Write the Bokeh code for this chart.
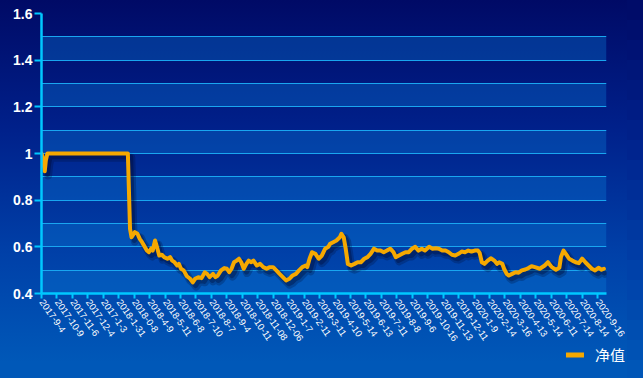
import numpy as np
from bokeh.plotting import figure
from bokeh.layouts import column
from bokeh.models import Range1d, FixedTicker, Legend, LegendItem, InlineStyleSheet
from bokeh.embed import file_html
from bokeh.resources import INLINE

# ---- data -------------------------------------------------------------
date_labels = [
    "2017-9-4", "2017-10-9", "2017-11-6", "2017-12-4", "2017-1-3", "2018-1-31",
    "2018-0-8", "2018-4-9", "2018-5-11", "2018-6-8", "2018-7-10", "2018-8-7",
    "2018-9-4", "2018-10-11", "2018-11-08", "2018-12-06", "2019-1-7", "2019-2-11",
    "2019-3-11", "2019-4-10", "2019-5-14", "2019-6-13", "2019-7-11", "2019-8-8",
    "2019-9-6", "2019-10-16", "2019-11-13", "2019-12-11", "2020-1-9", "2020-2-14",
    "2020-3-16", "2020-4-13", "2020-5-14", "2020-6-11", "2020-7-14", "2020-8-14",
    "2020-9-16",
]
y_ticks = [0.4, 0.6, 0.8, 1.0, 1.2, 1.4, 1.6]
y_tick_labels = ["0.4", "0.6", "0.8", "1", "1.2", "1.4", "1.6"]
grid_levels = [0.4, 0.5, 0.6, 0.7, 0.8, 0.9, 1.0, 1.1, 1.2, 1.3, 1.4, 1.5, 1.6]
x_end = 36.57
series_name = "净值"

# position along the category axis (in label intervals) and net value
pos = [0.00, 0.09, 0.21, 0.28, 0.38, 5.59, 5.73, 5.83, 6.04, 6.21, 6.36, 6.51, 6.68,
       6.82, 6.95, 7.09, 7.20, 7.35, 7.47, 7.62, 7.79, 7.94, 8.15, 8.32, 8.46, 8.61,
       8.78, 8.89, 9.03, 9.20, 9.41, 9.62, 9.79, 9.94, 10.15, 10.36, 10.57, 10.72,
       10.88, 11.10, 11.26, 11.41, 11.62, 11.83, 12.00, 12.15, 12.30, 12.46, 12.63,
       12.78, 12.93, 13.09, 13.26, 13.41, 13.58, 13.72, 13.94, 14.15, 14.36, 14.57,
       14.78, 14.99, 15.20, 15.41, 15.62, 15.83, 16.04, 16.25, 16.47, 16.67, 16.88,
       17.10, 17.20, 17.35, 17.51, 17.73, 17.94, 18.15, 18.36, 18.57, 18.68, 18.88,
       19.09, 19.31, 19.41, 19.56, 19.69, 19.83, 20.04, 20.26, 20.46, 20.67, 20.89,
       21.10, 21.30, 21.52, 21.73, 21.94, 22.15, 22.36, 22.57, 22.78, 22.93, 23.14,
       23.35, 23.56, 23.77, 23.98, 24.19, 24.40, 24.61, 24.82, 25.09, 25.31, 25.52,
       25.72, 25.94, 26.15, 26.36, 26.57, 26.78, 26.99, 27.20, 27.41, 27.62, 27.83,
       28.04, 28.25, 28.36, 28.50, 28.67, 28.88, 29.10, 29.31, 29.48, 29.62, 29.83,
       29.94, 30.11, 30.25, 30.46, 30.68, 30.88, 31.09, 31.31, 31.52, 31.72, 31.94,
       32.25, 32.57, 32.78, 33.03, 33.30, 33.52, 33.62, 33.79, 33.94, 34.15, 34.36,
       34.57, 34.78, 34.99, 35.20, 35.41, 35.62, 35.83, 36.05, 36.25, 36.40]
nav = [1.000, 0.980, 0.924, 0.970, 1.000, 1.000, 0.677, 0.641, 0.663, 0.656, 0.634,
       0.620, 0.600, 0.584, 0.577, 0.592, 0.584, 0.627, 0.600, 0.563, 0.566, 0.556,
       0.549, 0.556, 0.541, 0.534, 0.520, 0.527, 0.506, 0.499, 0.474, 0.463, 0.448,
       0.463, 0.470, 0.466, 0.491, 0.484, 0.470, 0.484, 0.470, 0.477, 0.499, 0.509,
       0.506, 0.491, 0.506, 0.534, 0.541, 0.549, 0.534, 0.506, 0.527, 0.541, 0.534,
       0.541, 0.520, 0.527, 0.513, 0.506, 0.513, 0.513, 0.499, 0.484, 0.470, 0.456,
       0.463, 0.477, 0.484, 0.499, 0.513, 0.520, 0.513, 0.549, 0.577, 0.570, 0.549,
       0.563, 0.592, 0.600, 0.613, 0.620, 0.627, 0.641, 0.656, 0.641, 0.592, 0.527,
       0.520, 0.527, 0.534, 0.534, 0.549, 0.556, 0.570, 0.592, 0.584, 0.584, 0.577,
       0.584, 0.592, 0.577, 0.556, 0.563, 0.570, 0.577, 0.577, 0.592, 0.600, 0.584,
       0.592, 0.584, 0.600, 0.592, 0.594, 0.592, 0.584, 0.584, 0.577, 0.566, 0.563,
       0.570, 0.580, 0.577, 0.584, 0.580, 0.584, 0.584, 0.574, 0.534, 0.527, 0.541,
       0.551, 0.541, 0.527, 0.534, 0.527, 0.506, 0.484, 0.477, 0.484, 0.491, 0.489,
       0.499, 0.503, 0.509, 0.517, 0.513, 0.506, 0.520, 0.534, 0.513, 0.502, 0.510,
       0.556, 0.584, 0.570, 0.549, 0.541, 0.534, 0.530, 0.549, 0.534, 0.520, 0.506,
       0.499, 0.510, 0.502, 0.506]

# ---- background styling (vertical gradient, plus strips around the page) ----
W, H = 627, 362
H_MAIN, H_LEG = 346, 16
stops = [(0.0, (0, 10, 102)), (0.35, (0, 32, 138)), (0.7, (0, 64, 168)), (1.0, (0, 88, 184))]


def grad_color(frac):
    for (f0, c0), (f1, c1) in zip(stops[:-1], stops[1:]):
        if frac <= f1:
            t = (frac - f0) / (f1 - f0)
            return "#%02x%02x%02x" % tuple(int(round(a + (b - a) * t)) for a, b in zip(c0, c1))
    return "#%02x%02x%02x" % stops[-1][1]


grad_css = ", ".join("%s %d%%" % (grad_color(f), int(f * 100)) for f, _ in stops)
shadows = []
for k in reversed(range(0, 400, 20)):
    shadows.append("16px %dpx 0 0 %s" % (k, grad_color(min(1.0, (k + 10) / (H + 16)))))
shadows.insert(0, "0 16px 0 0 %s" % grad_color(1.0))
css = InlineStyleSheet(css=":host { background: linear-gradient(to bottom, %s); box-shadow: %s; }"
                       % (grad_css, ", ".join(shadows)))

# ---- main chart -------------------------------------------------------
fig = figure(width=W, height=H_MAIN, output_backend="svg", toolbar_location=None,
             x_range=Range1d(0, x_end), y_range=Range1d(0.4, 1.6),
             min_border_left=41, min_border_right=21, min_border_top=13,
             min_border_bottom=53, background_fill_color=None,
             border_fill_color=None, outline_line_color=None)

# alternating lighter bands between grid lines
band_lo = np.array(grid_levels[0:-1:2])
band_hi = np.array(grid_levels[1::2])
fig.quad(left=0, right=x_end, bottom=band_lo, top=band_hi, fill_color="#0a7ad6",
         fill_alpha=0.35, line_color=None, level="image")

fig.xgrid.visible = False
fig.ygrid.ticker = FixedTicker(ticks=grid_levels)
fig.ygrid.grid_line_color = "#19a6f0"
fig.ygrid.grid_line_width = 1

axis_col = "#00c8ff"
fig.yaxis.ticker = FixedTicker(ticks=y_ticks)
fig.yaxis.major_label_overrides = {t: l for t, l in zip(y_ticks, y_tick_labels)}
fig.yaxis.axis_line_color = axis_col
fig.yaxis.axis_line_width = 2.5
fig.yaxis.major_tick_line_color = axis_col
fig.yaxis.major_tick_line_width = 2
fig.yaxis.major_tick_out = 7
fig.yaxis.major_tick_in = 0
fig.yaxis.minor_tick_line_color = None
fig.yaxis.major_label_text_color = "white"
fig.yaxis.major_label_text_font = "Liberation Sans"
fig.yaxis.major_label_text_font_size = "14px"
fig.yaxis.major_label_text_font_style = "bold"
fig.yaxis.major_label_standoff = 2

fig.xaxis.ticker = FixedTicker(ticks=list(range(len(date_labels))))
fig.xaxis.major_label_overrides = {i: lab for i, lab in enumerate(date_labels)}
fig.xaxis.major_label_orientation = -0.96
fig.xaxis.axis_line_color = axis_col
fig.xaxis.axis_line_width = 2.5
fig.xaxis.major_tick_line_color = axis_col
fig.xaxis.major_tick_line_width = 2
fig.xaxis.major_tick_out = 5
fig.xaxis.major_tick_in = 0
fig.xaxis.minor_tick_line_color = None
fig.xaxis.major_label_text_color = "white"
fig.xaxis.major_label_text_font = "Liberation Sans"
fig.xaxis.major_label_text_font_size = "9.5px"
fig.xaxis.major_label_standoff = 2

line_col = "#f5a800"
px = np.array(pos)
py = np.array(nav)
fig.line(px + 0.22, py - 0.018, line_color="#000a30", line_alpha=0.25,
         line_width=8, line_join="round")
fig.line(px + 0.18, py - 0.014, line_color="#000a30", line_alpha=0.35,
         line_width=5, line_join="round")
fig.line(px, py, line_color=line_col, line_width=4, line_join="round",
         line_cap="round")

# ---- legend strip (series drawn out of view; only its legend shows) ----
leg = figure(width=W, height=H_LEG, output_backend="svg", toolbar_location=None,
             x_axis_type=None, y_axis_type=None, min_border=0,
             x_range=Range1d(0, x_end), y_range=Range1d(2, 3),
             background_fill_color=None, border_fill_color=None,
             outline_line_color=None)
try:
    leg.frame_align = False
except Exception:
    pass
swatch = leg.line(px, py, line_color=line_col, line_width=5, line_cap="round")
legend = Legend(items=[LegendItem(label=series_name, renderers=[swatch])],
                location="right", orientation="horizontal",
                label_text_color="white", label_text_font="Noto Sans CJK SC",
                label_text_font_size="15px", background_fill_alpha=0,
                border_line_alpha=0, glyph_width=18, glyph_height=14,
                label_height=14, padding=0, margin=2, label_standoff=11)
leg.add_layout(legend)

p = column(fig, leg, spacing=0, stylesheets=[css])

open("out.html", "w").write(file_html(p, INLINE))
